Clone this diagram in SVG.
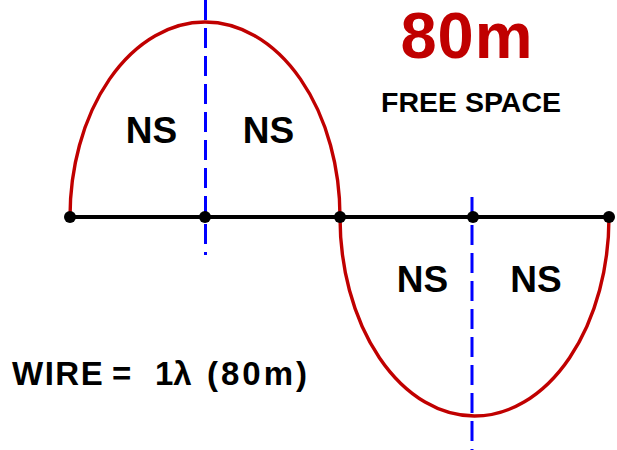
<svg xmlns="http://www.w3.org/2000/svg" width="617" height="450" viewBox="0 0 617 450">
<style>
.curve{fill:none;stroke:#C00000;stroke-width:3.4}
.wire{stroke:#000;stroke-width:4}
.dot{fill:#000}
.axis{stroke:#0000FF;stroke-width:3;stroke-dasharray:20 8}
.lbl{font-family:"Liberation Sans",Arial,sans-serif;font-weight:bold;fill:#000}
.ns{font-size:37px;text-anchor:middle}
</style>
<rect width="617" height="450" fill="#fff"/>
<g id="connectors">
<path class="curve" d="M70,217 A135,195 0 0 1 340,217"/>
<path class="curve" d="M340,217 A134.5,199 0 0 0 609,217"/>
<line class="wire" x1="70" y1="217" x2="609" y2="217"/>
<line class="axis" x1="205.5" y1="0" x2="205.5" y2="255"/>
<line class="axis" x1="472" y1="197" x2="472" y2="450"/>
</g>
<g id="nodes">
<circle class="dot" cx="70" cy="217" r="6"/>
<circle class="dot" cx="205" cy="217" r="6"/>
<circle class="dot" cx="340" cy="217" r="6"/>
<circle class="dot" cx="473" cy="217" r="6"/>
<circle class="dot" cx="609" cy="217" r="6"/>
</g>
<g id="labels">
<text class="lbl ns" x="151.5" y="143">NS</text>
<text class="lbl ns" x="268.5" y="143">NS</text>
<text class="lbl ns" x="422.5" y="292">NS</text>
<text class="lbl ns" x="536" y="292">NS</text>
<text class="lbl" x="467" y="58" font-size="65" text-anchor="middle" style="fill:#C00000;letter-spacing:1px">80m</text>
<text class="lbl" x="471" y="112" font-size="28.5" text-anchor="middle">FREE SPACE</text>
<text class="lbl" y="385" font-size="33"><tspan x="12" style="letter-spacing:1.5px">WIRE</tspan><tspan x="112">=</tspan><tspan x="155">1λ</tspan><tspan x="207" style="letter-spacing:3px">(80m)</tspan></text>
</g>
</svg>
